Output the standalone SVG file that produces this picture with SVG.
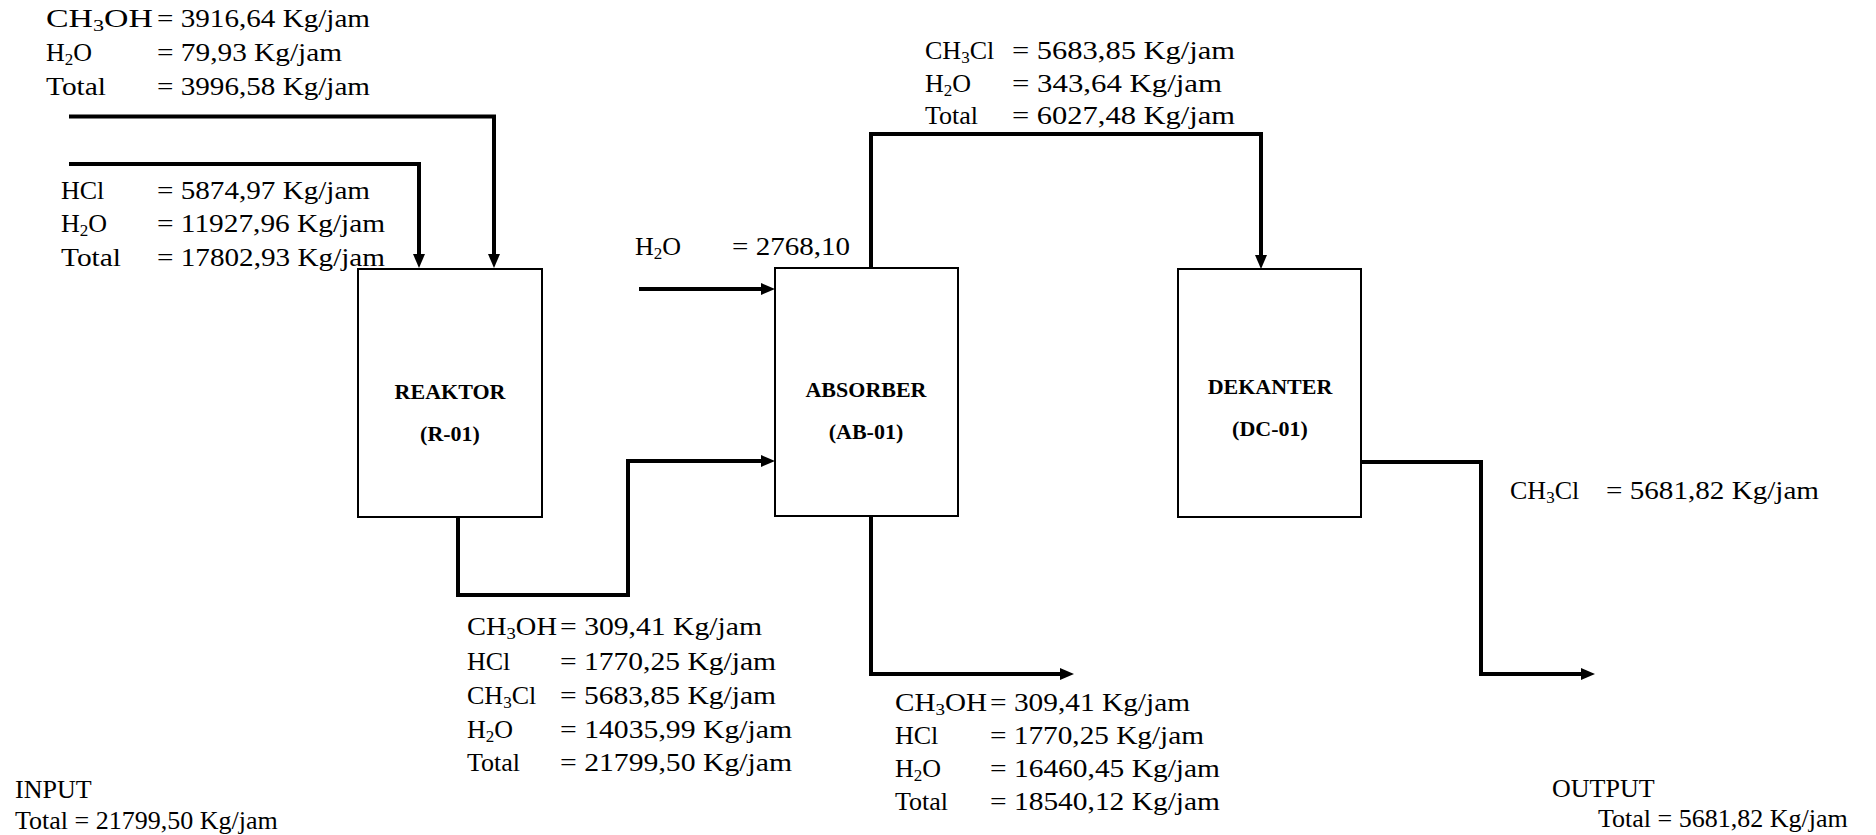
<svg xmlns="http://www.w3.org/2000/svg" width="1876" height="835" viewBox="0 0 1876 835">
<style>
text{font-family:"Liberation Serif","Times New Roman",serif;font-size:26px;fill:#000}
.b{font-weight:bold;font-size:22px;text-anchor:middle}
.s{font-size:17px}
.box{fill:#fff;stroke:#000;stroke-width:2}
.ln{fill:none;stroke:#000;stroke-width:4;stroke-linejoin:miter}
</style>
<defs>
<marker id="ah" markerUnits="userSpaceOnUse" markerWidth="14" markerHeight="12" refX="2" refY="6" orient="auto">
<path d="M0,0 L14,6 L0,12 z" fill="#000"/>
</marker>
</defs>
<rect width="1876" height="835" fill="#fff"/>

<g id="connectors">
<path class="ln" d="M69,116.5 H494 V256" marker-end="url(#ah)"/>
<path class="ln" d="M69,164 H419 V256" marker-end="url(#ah)"/>
<path class="ln" d="M639,289 H763" marker-end="url(#ah)"/>
<path class="ln" d="M458,517 V595 H628 V461 H763" marker-end="url(#ah)"/>
<path class="ln" d="M871,268 V134 H1261 V257" marker-end="url(#ah)"/>
<path class="ln" d="M871,517 V674 H1062" marker-end="url(#ah)"/>
<path class="ln" d="M1361,462 H1481 V674 H1583" marker-end="url(#ah)"/>
</g>

<g id="reaktor">
<rect class="box" x="358" y="269" width="184" height="248"/>
<text class="b" x="450" y="399">REAKTOR</text>
<text class="b" x="450" y="441">(R-01)</text>
</g>

<g id="absorber">
<rect class="box" x="775" y="268" width="183" height="248"/>
<text class="b" x="866" y="397">ABSORBER</text>
<text class="b" x="866" y="439">(AB-01)</text>
</g>

<g id="dekanter">
<rect class="box" x="1178" y="269" width="183" height="248"/>
<text class="b" x="1270" y="394">DEKANTER</text>
<text class="b" x="1270" y="436">(DC-01)</text>
</g>

<g id="feed-ch3oh">
<text x="46" y="27" textLength="107" lengthAdjust="spacingAndGlyphs">CH<tspan class="s" dy="4">3</tspan><tspan dy="-4">OH</tspan></text>
<text x="157" y="27" textLength="213" lengthAdjust="spacingAndGlyphs">= 3916,64 Kg/jam</text>
<text x="46" y="61">H<tspan class="s" dy="4">2</tspan><tspan dy="-4">O</tspan></text>
<text x="157" y="61" textLength="185" lengthAdjust="spacingAndGlyphs">= 79,93 Kg/jam</text>
<text x="46" y="95" textLength="60" lengthAdjust="spacingAndGlyphs">Total</text>
<text x="157" y="95" textLength="213" lengthAdjust="spacingAndGlyphs">= 3996,58 Kg/jam</text>
</g>

<g id="feed-hcl">
<text x="61" y="199">HCl</text>
<text x="157" y="199" textLength="213" lengthAdjust="spacingAndGlyphs">= 5874,97 Kg/jam</text>
<text x="61" y="232">H<tspan class="s" dy="4">2</tspan><tspan dy="-4">O</tspan></text>
<text x="157" y="232" textLength="228" lengthAdjust="spacingAndGlyphs">= 11927,96 Kg/jam</text>
<text x="61" y="266" textLength="60" lengthAdjust="spacingAndGlyphs">Total</text>
<text x="157" y="266" textLength="228" lengthAdjust="spacingAndGlyphs">= 17802,93 Kg/jam</text>
</g>

<g id="feed-h2o">
<text x="635" y="255">H<tspan class="s" dy="4">2</tspan><tspan dy="-4">O</tspan></text>
<text x="732" y="255" textLength="118" lengthAdjust="spacingAndGlyphs">= 2768,10</text>
</g>

<g id="stream-top">
<text x="925" y="59">CH<tspan class="s" dy="4">3</tspan><tspan dy="-4">Cl</tspan></text>
<text x="1012" y="59" textLength="223" lengthAdjust="spacingAndGlyphs">= 5683,85 Kg/jam</text>
<text x="925" y="92">H<tspan class="s" dy="4">2</tspan><tspan dy="-4">O</tspan></text>
<text x="1012" y="92" textLength="210" lengthAdjust="spacingAndGlyphs">= 343,64 Kg/jam</text>
<text x="925" y="124">Total</text>
<text x="1012" y="124" textLength="223" lengthAdjust="spacingAndGlyphs">= 6027,48 Kg/jam</text>
</g>

<g id="stream-reaktor-out">
<text x="467" y="635" textLength="90" lengthAdjust="spacingAndGlyphs">CH<tspan class="s" dy="4">3</tspan><tspan dy="-4">OH</tspan></text>
<text x="560" y="635" textLength="202" lengthAdjust="spacingAndGlyphs">= 309,41 Kg/jam</text>
<text x="467" y="670">HCl</text>
<text x="560" y="670" textLength="216" lengthAdjust="spacingAndGlyphs">= 1770,25 Kg/jam</text>
<text x="467" y="704">CH<tspan class="s" dy="4">3</tspan><tspan dy="-4">Cl</tspan></text>
<text x="560" y="704" textLength="216" lengthAdjust="spacingAndGlyphs">= 5683,85 Kg/jam</text>
<text x="467" y="738">H<tspan class="s" dy="4">2</tspan><tspan dy="-4">O</tspan></text>
<text x="560" y="738" textLength="232" lengthAdjust="spacingAndGlyphs">= 14035,99 Kg/jam</text>
<text x="467" y="771">Total</text>
<text x="560" y="771" textLength="232" lengthAdjust="spacingAndGlyphs">= 21799,50 Kg/jam</text>
</g>

<g id="stream-absorber-out">
<text x="895" y="711" textLength="92" lengthAdjust="spacingAndGlyphs">CH<tspan class="s" dy="4">3</tspan><tspan dy="-4">OH</tspan></text>
<text x="990" y="711" textLength="200" lengthAdjust="spacingAndGlyphs">= 309,41 Kg/jam</text>
<text x="895" y="744">HCl</text>
<text x="990" y="744" textLength="214" lengthAdjust="spacingAndGlyphs">= 1770,25 Kg/jam</text>
<text x="895" y="777">H<tspan class="s" dy="4">2</tspan><tspan dy="-4">O</tspan></text>
<text x="990" y="777" textLength="230" lengthAdjust="spacingAndGlyphs">= 16460,45 Kg/jam</text>
<text x="895" y="810">Total</text>
<text x="990" y="810" textLength="230" lengthAdjust="spacingAndGlyphs">= 18540,12 Kg/jam</text>
</g>

<g id="stream-product">
<text x="1510" y="499">CH<tspan class="s" dy="4">3</tspan><tspan dy="-4">Cl</tspan></text>
<text x="1606" y="499" textLength="213" lengthAdjust="spacingAndGlyphs">= 5681,82 Kg/jam</text>
</g>

<g id="input">
<text x="15" y="798">INPUT</text>
<text x="15" y="829">Total = 21799,50 Kg/jam</text>
</g>

<g id="output">
<text x="1552" y="797">OUTPUT</text>
<text x="1598" y="827">Total = 5681,82 Kg/jam</text>
</g>
</svg>
